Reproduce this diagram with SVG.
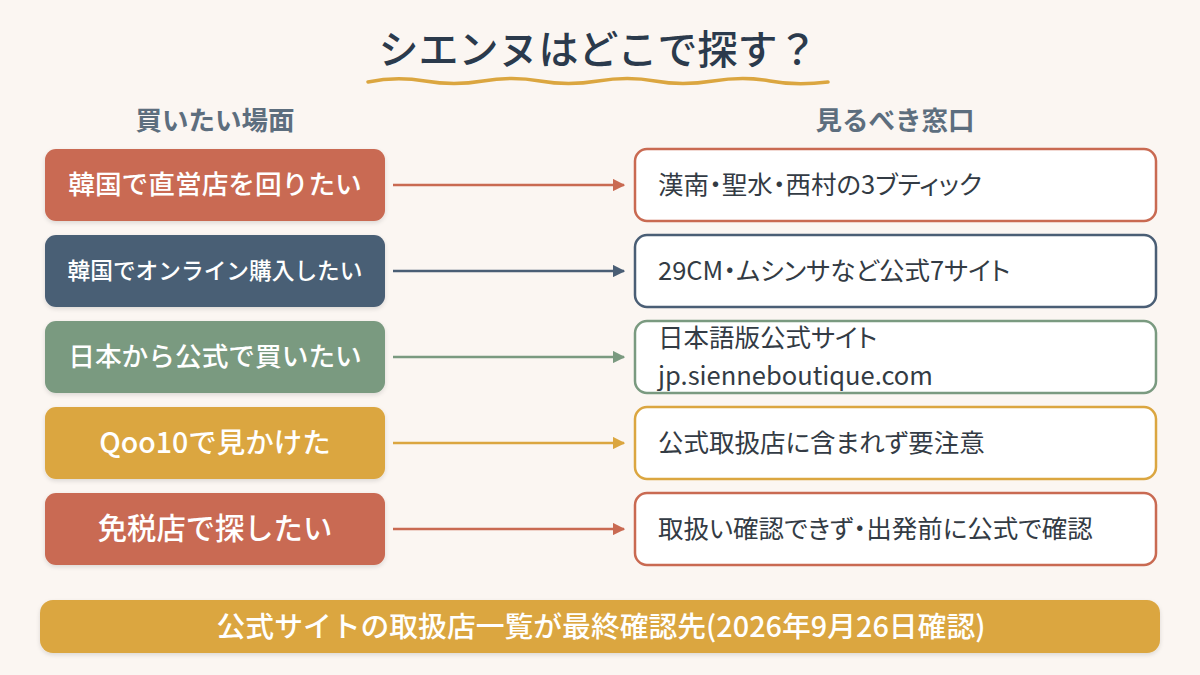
<svg xmlns="http://www.w3.org/2000/svg" width="1200" height="675" viewBox="0 0 1200 675">
  <defs>
    <filter id="sh" x="-10%" y="-20%" width="120%" height="150%">
      <feDropShadow dx="0" dy="2" stdDeviation="2" flood-color="#000" flood-opacity="0.12"/>
    </filter>
    <marker id="aT" viewBox="0 0 10 10" refX="9" refY="5" markerWidth="5" markerHeight="5" orient="auto" markerUnits="strokeWidth"><path d="M0,0 L10,5 L0,10 z" fill="#c96a52"/></marker>
    <marker id="aS" viewBox="0 0 10 10" refX="9" refY="5" markerWidth="5" markerHeight="5" orient="auto" markerUnits="strokeWidth"><path d="M0,0 L10,5 L0,10 z" fill="#4a5e75"/></marker>
    <marker id="aG" viewBox="0 0 10 10" refX="9" refY="5" markerWidth="5" markerHeight="5" orient="auto" markerUnits="strokeWidth"><path d="M0,0 L10,5 L0,10 z" fill="#7a9a80"/></marker>
    <marker id="aM" viewBox="0 0 10 10" refX="9" refY="5" markerWidth="5" markerHeight="5" orient="auto" markerUnits="strokeWidth"><path d="M0,0 L10,5 L0,10 z" fill="#dba640"/></marker>
  </defs>
  <style>
    text { font-family: "Noto Sans CJK JP", "Noto Sans", sans-serif; }
    .title { font-size: 40px; fill: #2b3a4c; font-weight: 500; }
    .head { font-size: 26.5px; fill: #5d6e7e; font-weight: bold; }
    .lt { fill: #ffffff; font-weight: 500; text-anchor: middle; }
    .rt { font-size: 25.5px; fill: #333b44; font-feature-settings: "palt"; }
    .rbox { fill: #ffffff; stroke-width: 2.5; }
    .conn { stroke-width: 2.5; fill: none; }
  </style>
  <rect width="1200" height="675" fill="#fbf6f2"/>

  <g id="title">
    <text class="title" x="598" y="64" text-anchor="middle">シエンヌはどこで探す？</text>
    <path d="M368,82 Q396,76 425,81 T483,81 T540,81 T598,81 T655,81 T713,81 T770,81 T828,82" fill="none" stroke="#dba640" stroke-width="3.5" stroke-linecap="round"/>
  </g>

  <g id="headers">
    <text class="head" x="215" y="130" text-anchor="middle">買いたい場面</text>
    <text class="head" x="895" y="130" text-anchor="middle">見るべき窓口</text>
  </g>

  <g id="left1"><rect x="45" y="149" width="340" height="72" rx="11" fill="#c96a52" filter="url(#sh)"/><text class="lt" x="215" y="194" font-size="26.7">韓国で直営店を回りたい</text></g>
  <g id="left2"><rect x="45" y="235" width="340" height="72" rx="11" fill="#4a5e75" filter="url(#sh)"/><text class="lt" x="215" y="279" font-size="22.7">韓国でオンライン購入したい</text></g>
  <g id="left3"><rect x="45" y="321" width="340" height="72" rx="11" fill="#7a9a80" filter="url(#sh)"/><text class="lt" x="215" y="366" font-size="26.7">日本から公式で買いたい</text></g>
  <g id="left4"><rect x="45" y="407" width="340" height="72" rx="11" fill="#dba640" filter="url(#sh)"/><text class="lt" x="215" y="453" font-size="28.5">Qoo10で見かけた</text></g>
  <g id="left5"><rect x="45" y="493" width="340" height="72" rx="11" fill="#c96a52" filter="url(#sh)"/><text class="lt" x="215" y="539" font-size="29.3">免税店で探したい</text></g>

  <g id="right1"><rect class="rbox" x="635" y="149" width="521" height="72" rx="12" stroke="#c96a52"/><text class="rt" x="658" y="194">漢南・聖水・西村の3ブティック</text></g>
  <g id="right2"><rect class="rbox" x="635" y="235" width="521" height="72" rx="12" stroke="#4a5e75"/><text class="rt" x="658" y="280">29CM・ムシンサなど公式7サイト</text></g>
  <g id="right3"><rect class="rbox" x="635" y="321" width="521" height="72" rx="12" stroke="#7a9a80"/><text class="rt" x="658" y="347">日本語版公式サイト</text><text class="rt" x="658" y="385">jp.sienneboutique.com</text></g>
  <g id="right4"><rect class="rbox" x="635" y="407" width="521" height="72" rx="12" stroke="#dba640"/><text class="rt" x="658" y="452">公式取扱店に含まれず要注意</text></g>
  <g id="right5"><rect class="rbox" x="635" y="493" width="521" height="72" rx="12" stroke="#c96a52"/><text class="rt" x="658" y="538">取扱い確認できず・出発前に公式で確認</text></g>

  <g id="connectors">
    <line class="conn" x1="393" y1="185" x2="624" y2="185" stroke="#c96a52" marker-end="url(#aT)"/>
    <line class="conn" x1="393" y1="271" x2="624" y2="271" stroke="#4a5e75" marker-end="url(#aS)"/>
    <line class="conn" x1="393" y1="357" x2="624" y2="357" stroke="#7a9a80" marker-end="url(#aG)"/>
    <line class="conn" x1="393" y1="443" x2="624" y2="443" stroke="#dba640" marker-end="url(#aM)"/>
    <line class="conn" x1="393" y1="529" x2="624" y2="529" stroke="#c96a52" marker-end="url(#aT)"/>
  </g>

  <g id="footer">
    <rect x="40" y="600" width="1120" height="53" rx="13" fill="#dba640" filter="url(#sh)"/>
    <text x="601" y="637" text-anchor="middle" font-size="28.8" font-weight="500" fill="#ffffff">公式サイトの取扱店一覧が最終確認先(2026年9月26日確認)</text>
  </g>
</svg>
